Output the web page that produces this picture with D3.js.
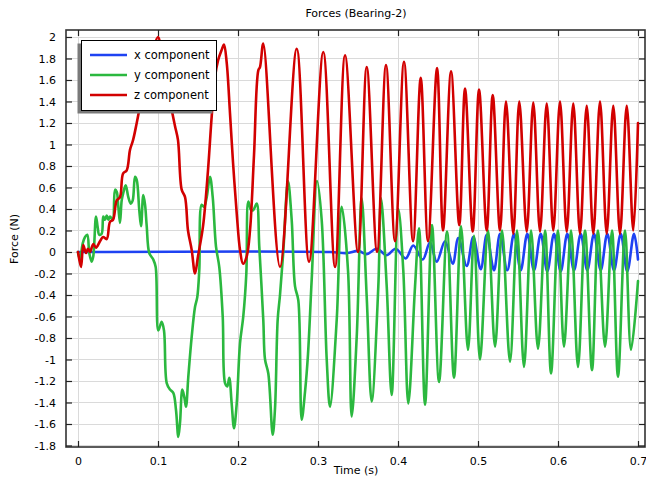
<!DOCTYPE html>
<html><head><meta charset="utf-8">
<script src="https://cdn.jsdelivr.net/npm/d3@7"></script>
<style>body{margin:0;background:#fff}svg{display:block}text{font-family:"DejaVu Sans",sans-serif;fill:#000}</style>
</head><body><svg id="c" width="646" height="478"></svg>
<script>
const titleText = "Forces (Bearing-2)";
const xLabel = "Time (s)";
const yLabel = "Force (N)";
const xTicks = [0, 0.1, 0.2, 0.3, 0.4, 0.5, 0.6, 0.7];
const yTicks = [2, 1.8, 1.6, 1.4, 1.2, 1, 0.8, 0.6, 0.4, 0.2, 0, -0.2, -0.4, -0.6, -0.8, -1, -1.2, -1.4, -1.6, -1.8];
const seriesNames = ["x component", "y component", "z component"];
const seriesColors = ["#1e42f2", "#2bb83f", "#d20000"];

// x component (time s, force N)
const xTime = [0, 0.315, 0.3359, 0.3504, 0.3609, 0.3734, 0.3859, 0.3971, 0.4096, 0.4191, 0.4309, 0.44, 0.4484, 0.4588, 0.4684, 0.4754, 0.4859, 0.4941, 0.5034, 0.5109, 0.52, 0.5275, 0.5366, 0.545, 0.5534, 0.5616, 0.57, 0.5784, 0.5866, 0.595, 0.6034, 0.6116, 0.62, 0.6284, 0.6366, 0.645, 0.6534, 0.6616, 0.67, 0.6784, 0.6866, 0.695, 0.7];
const xForce = [0, 0, -0.01, 0.01, -0.02, 0.03, -0.03, 0.03, -0.06, 0.06, -0.07, 0.09, -0.09, 0.10, -0.11, 0.13, -0.13, 0.14, -0.16, 0.16, -0.17, 0.17, -0.17, 0.17, -0.17, 0.17, -0.17, 0.17, -0.18, 0.17, -0.18, 0.17, -0.17, 0.17, -0.17, 0.17, -0.17, 0.17, -0.17, 0.17, -0.18, 0.17, -0.07];

// y component
const yTime = [0, 0.0025, 0.0059, 0.0088, 0.0116, 0.0141, 0.0171, 0.0191, 0.0225, 0.0246, 0.0266, 0.0296, 0.0316, 0.0338, 0.0359, 0.0379, 0.04, 0.0434, 0.0463, 0.0484, 0.0504, 0.0525, 0.0546, 0.0566, 0.0596, 0.0629, 0.0659, 0.0684, 0.0713, 0.0734, 0.0766, 0.0788, 0.0816, 0.0838, 0.0859, 0.0891, 0.0941, 0.0971, 0.1004, 0.1046, 0.1075, 0.1109, 0.115, 0.1191, 0.1225, 0.1254, 0.1275, 0.1304, 0.1329, 0.135, 0.1379, 0.1421, 0.1463, 0.1491, 0.1516, 0.1546, 0.1575, 0.1609, 0.165, 0.1684, 0.1725, 0.1766, 0.1809, 0.1838, 0.1866, 0.1891, 0.1921, 0.195, 0.1984, 0.2025, 0.2066, 0.2104, 0.2129, 0.2163, 0.2191, 0.2234, 0.2266, 0.2316, 0.2338, 0.2379, 0.2434, 0.2463, 0.2496, 0.2525, 0.2566, 0.2625, 0.2671, 0.2713, 0.2754, 0.2796, 0.2838, 0.2875, 0.2921, 0.2988, 0.3046, 0.3109, 0.315, 0.3234, 0.3296, 0.3375, 0.3421, 0.3484, 0.3546, 0.3609, 0.3671, 0.3754, 0.3788, 0.3859, 0.3921, 0.4004, 0.4066, 0.4129, 0.4213, 0.4263, 0.4338, 0.4425, 0.4513, 0.4613, 0.47, 0.4788, 0.4875, 0.495, 0.5025, 0.5125, 0.5213, 0.53, 0.54, 0.5488, 0.5575, 0.5663, 0.575, 0.5838, 0.5913, 0.6, 0.6075, 0.6163, 0.625, 0.6338, 0.6425, 0.65, 0.6588, 0.6675, 0.675, 0.6838, 0.6913, 0.7];
const yForce = [0, -0.07, 0.08, 0.14, 0.16, -0.01, -0.09, -0.04, 0.33, 0.23, 0.16, 0.17, 0.33, 0.30, 0.34, 0.30, 0.33, 0.30, 0.58, 0.56, 0.42, 0.27, 0.48, 0.55, 0.62, 0.51, 0.45, 0.48, 0.70, 0.67, 0.39, 0.24, 0.53, 0.44, 0.24, -0.01, -0.07, -0.14, -0.73, -0.65, -0.73, -1.22, -1.28, -1.31, -1.47, -1.72, -1.59, -1.28, -1.35, -1.44, -1.16, -0.79, -0.51, -0.42, -0.17, 0.44, 0.42, 0.51, 0.70, 0.51, 0.05, -0.14, -0.60, -1.22, -1.25, -1.17, -1.41, -1.64, -1.41, -0.85, -0.60, -0.20, 0.47, 0.39, 0.39, 0.45, 0.05, -0.63, -1.00, -1.13, -1.70, -1.45, -0.63, -0.40, 0.0, 0.66, 0.30, -0.32, -0.45, -1.56, -1.30, -0.95, -0.26, 0.66, 0.30, -1.00, -1.44, -0.63, 0.42, -0.17, -1.53, -0.79, 0.50, -0.42, -1.39, -0.32, 0.50, -0.32, -1.33, 0.40, -0.17, -1.41, -0.32, 0.22, -1.42, 0.25, -1.21, 0.19, -1.17, 0.24, -0.91, 0.15, -1.00, 0.20, -0.88, 0.20, -1.02, 0.20, -1.07, 0.20, -0.90, 0.20, -1.13, 0.20, -0.88, 0.20, -1.07, 0.20, -1.10, 0.20, -0.88, 0.20, -1.16, 0.20, -0.91, -0.27];

// z component
const zTime = [0, 0.0038, 0.0066, 0.01, 0.0125, 0.015, 0.0191, 0.0225, 0.0275, 0.0313, 0.0359, 0.04, 0.0438, 0.0484, 0.0525, 0.0563, 0.0609, 0.065, 0.0688, 0.0734, 0.08, 0.0875, 0.0938, 0.1, 0.105, 0.11, 0.1171, 0.1213, 0.125, 0.1296, 0.1338, 0.1375, 0.1421, 0.1463, 0.15, 0.1563, 0.1625, 0.1671, 0.1713, 0.175, 0.1796, 0.1825, 0.1859, 0.19, 0.1938, 0.1984, 0.2025, 0.2063, 0.2109, 0.215, 0.22, 0.2254, 0.2275, 0.2316, 0.2525, 0.2734, 0.2888, 0.3066, 0.3213, 0.3338, 0.35, 0.3609, 0.3738, 0.385, 0.3963, 0.4075, 0.4188, 0.4284, 0.4375, 0.4488, 0.4563, 0.4663, 0.4766, 0.4838, 0.4934, 0.5013, 0.5109, 0.5184, 0.5275, 0.535, 0.5441, 0.5516, 0.5609, 0.5691, 0.5775, 0.5859, 0.5941, 0.6025, 0.6109, 0.6191, 0.6275, 0.6359, 0.6441, 0.6525, 0.6609, 0.6691, 0.6775, 0.6859, 0.6941, 0.7];
const zForce = [0, -0.14, 0.065, -0.01, 0.03, 0.0, 0.075, 0.04, 0.10, 0.14, 0.12, 0.28, 0.30, 0.48, 0.51, 0.73, 0.76, 0.95, 1.04, 1.20, 1.45, 1.70, 1.88, 2.0, 1.80, 1.55, 1.32, 1.17, 1.04, 0.58, 0.51, 0.20, 0.02, -0.20, -0.04, 0.24, 0.76, 1.26, 1.63, 1.78, 1.88, 1.93, 1.76, 1.29, 0.83, 0.36, 0.02, -0.11, -0.04, 0.20, 0.90, 1.69, 1.72, 1.94, -0.14, 1.89, -0.09, 1.86, -0.14, 1.83, 0.0, 1.72, 0.0, 1.74, 0.10, 1.77, 0.10, 1.62, 0.10, 1.71, 0.20, 1.68, 0.25, 1.52, 0.19, 1.51, 0.20, 1.46, 0.20, 1.40, 0.17, 1.40, 0.19, 1.39, 0.19, 1.38, 0.20, 1.40, 0.19, 1.38, 0.17, 1.36, 0.17, 1.40, 0.17, 1.36, 0.17, 1.36, 0.20, 1.20];

const svg = d3.select("#c");
const L = 66, R = 645, T = 30, B = 447;
const x = d3.scaleLinear().domain([-0.015, 0.70875]).range([L, R]);
const y = d3.scaleLinear().domain([-1.814, 2.065]).range([B, T]);

svg.append("rect").attr("x",0).attr("y",0).attr("width",646).attr("height",478).attr("fill","#fff");

// grid
const g = svg.append("g");
g.selectAll(".gx").data(xTicks).join("line")
  .attr("x1", d => x(d)).attr("x2", d => x(d)).attr("y1", T).attr("y2", B)
  .attr("stroke", "#dadada").attr("stroke-width", 1).attr("shape-rendering","crispEdges");
g.selectAll(".gy").data(yTicks).join("line")
  .attr("y1", d => Math.round(y(d))+0.5).attr("y2", d => Math.round(y(d))+0.5).attr("x1", L).attr("x2", R)
  .attr("stroke", "#dadada").attr("stroke-width", 1);

// series
const series = [
  {t: xTime, v: xForce},
  {t: yTime, v: yForce},
  {t: zTime, v: zForce}
];
const line = d3.line().x(d => x(d[0])).y(d => y(d[1])).curve(d3.curveCatmullRom.alpha(0.5));
svg.append("clipPath").attr("id","clp").append("rect").attr("x",L).attr("y",T).attr("width",R-L).attr("height",B-T);
const plotG = svg.append("g").attr("clip-path","url(#clp)");
[0,1,2].forEach(i => {
  const pts = series[i].t.map((tt, k) => [tt, series[i].v[k]]);
  plotG.append("path").attr("d", line(pts)).attr("fill","none")
    .attr("stroke", seriesColors[i]).attr("stroke-width", 2.6)
    .attr("stroke-linejoin","round").attr("stroke-linecap","round");
});

// frame
svg.append("rect").attr("x",L).attr("y",T).attr("width",R-L).attr("height",B-T)
  .attr("fill","none").attr("stroke","#333").attr("stroke-width",1.6);

// axes with inward ticks
const axB = d3.axisBottom(x).tickValues(xTicks).tickSize(-6).tickPadding(10).tickFormat(d3.format("~g"));
const axT = d3.axisTop(x).tickValues(xTicks).tickSize(-6).tickFormat("");
const axL = d3.axisLeft(y).tickValues(yTicks).tickSize(-6).tickPadding(10).tickFormat(d => d3.format("~g")(d).replace("−","-"));
const axR = d3.axisRight(y).tickValues(yTicks).tickSize(-6).tickFormat("");
function styleAx(sel){
  sel.select(".domain").remove();
  sel.selectAll(".tick line").attr("stroke","#222").attr("stroke-width",1.2);
  sel.selectAll(".tick text").attr("font-size","11px").attr("font-family","DejaVu Sans, sans-serif").attr("fill","#000");
}
svg.append("g").attr("transform",`translate(0,${B})`).call(axB).call(styleAx);
svg.append("g").attr("transform",`translate(0,${T})`).call(axT).call(styleAx);
svg.append("g").attr("transform",`translate(${L},0)`).call(axL).call(styleAx);
svg.append("g").attr("transform",`translate(${R},0)`).call(axR).call(styleAx);

// titles
svg.append("text").attr("x", 356).attr("y", 17).attr("text-anchor","middle").attr("font-size","11px").text(titleText);
svg.append("text").attr("x", 356).attr("y", 474).attr("text-anchor","middle").attr("font-size","11px").text(xLabel);
svg.append("text").attr("transform","translate(18,239) rotate(-90)").attr("text-anchor","middle").attr("font-size","11px").text(yLabel);

// legend
const lg = svg.append("g");
lg.append("rect").attr("x",77.5).attr("y",43.5).attr("width",135).attr("height",70).attr("fill","#7a7a7a");
lg.append("rect").attr("x",81.5).attr("y",40.5).attr("width",135).attr("height",70).attr("fill","#fff").attr("stroke","#000").attr("stroke-width",1);
seriesNames.forEach((n, i) => {
  const yy = 55 + i*20;
  lg.append("line").attr("x1",90).attr("x2",127).attr("y1",yy).attr("y2",yy).attr("stroke",seriesColors[i]).attr("stroke-width",2.6);
  lg.append("text").attr("x",134).attr("y",yy+4).attr("font-size","11.5px").text(n);
});
</script>
</body></html>
